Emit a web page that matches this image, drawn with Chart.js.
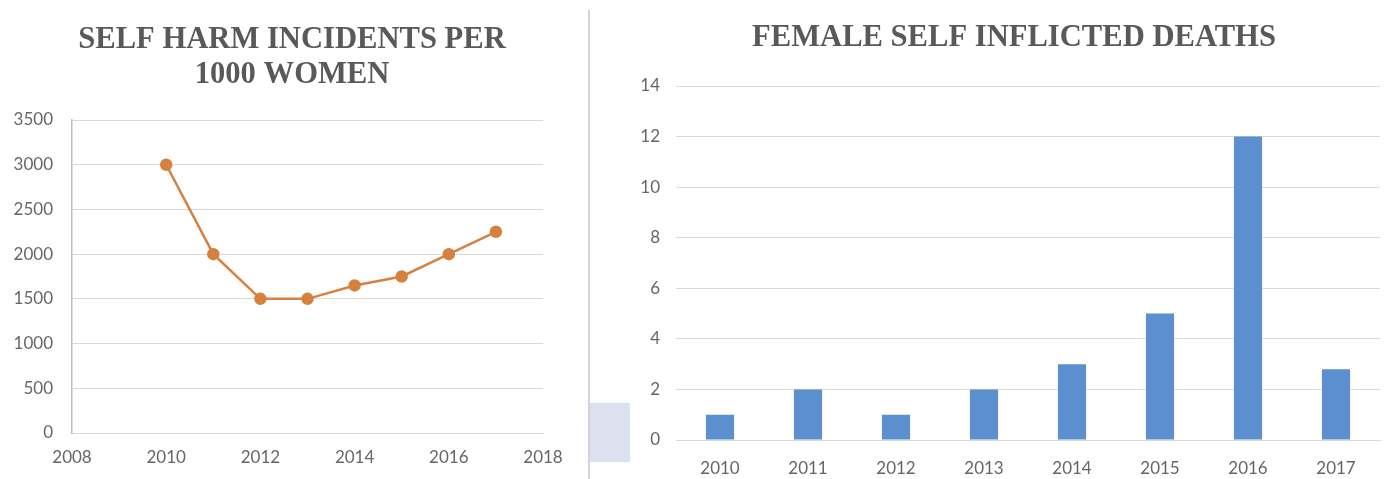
<!DOCTYPE html>
<html>
<head>
<meta charset="utf-8">
<script src="https://cdn.jsdelivr.net/npm/chart.js@4"></script>
<style>
  body { margin: 0; background: #fff; }
  #wrap { position: relative; width: 1390px; height: 479px; overflow: hidden; }
  #left { position: absolute; left: 0; top: 0; }
  #right { position: absolute; left: 638px; top: 0; }
  #sep { position: absolute; left: 588px; top: 10px; width: 2px; height: 469px; background: #d4d4d4; }
  #patch { position: absolute; left: 590px; top: 403px; width: 40px; height: 59px; background: #dde0ee; }
</style>
</head>
<body>
<div id="wrap">
  <canvas id="left" width="584" height="479"></canvas>
  <div id="sep"></div>
  <div id="patch"></div>
  <canvas id="right" width="752" height="479"></canvas>
</div>
<script>
// self harm incidents per 1000 women
const harmYears = [2010, 2011, 2012, 2013, 2014, 2015, 2016, 2017];
const harmValues = [3000, 2000, 1500, 1500, 1650, 1750, 2000, 2250];

// female self inflicted deaths
const deathYears = ['2010', '2011', '2012', '2013', '2014', '2015', '2016', '2017'];
const deathValues = [1, 2, 1, 2, 3, 5, 12, 2.8];

const tickFont = { family: 'Lato', size: 17 };
const tickColor = '#666666';
const gridColor = '#d9d9d9';
const titleFont = { family: 'Liberation Serif', size: 30.6, weight: 'bold', lineHeight: 35 / 30.6 };

// empty axis on the right, only there to reserve space so the title stays centred on the whole canvas
function spacer(w) {
    return {
        position: 'right',
        display: true,
        ticks: { display: false },
        grid: { display: false },
        border: { display: false },
        afterFit: s => { s.width = w; }
    };
}

new Chart(document.getElementById('left'), {
    type: 'line',
    data: {
        datasets: [{
            data: harmYears.map((y, i) => ({ x: y, y: harmValues[i] })),
            borderColor: '#d6813f',
            backgroundColor: '#d6813f',
            borderWidth: 2.5,
            pointRadius: 5,
            tension: 0
        }]
    },
    options: {
        responsive: false,
        animation: false,
        layout: { padding: 0 },
        plugins: {
            legend: { display: false },
            tooltip: { enabled: false },
            title: {
                display: true,
                text: ['SELF HARM INCIDENTS PER', '1000 WOMEN'],
                color: '#595959',
                font: titleFont,
                padding: { top: 22.5, bottom: 27.5 }
            }
        },
        scales: {
            x: {
                type: 'linear',
                min: 2008,
                max: 2018,
                ticks: { stepSize: 2, color: tickColor, font: tickFont, padding: 6, maxRotation: 0,
                         callback: v => String(v) },
                grid: { display: false },
                border: { display: true, color: gridColor, width: 1 },
                afterFit: s => { s.height = 46; }
            },
            y: {
                min: 0,
                max: 3500,
                ticks: { stepSize: 500, color: tickColor, font: tickFont, padding: 19,
                         callback: v => String(v) },
                grid: { color: gridColor, drawTicks: false },
                border: { display: true, color: '#bfbfbf', width: 1.5 },
                afterFit: s => { s.width = 72; }
            },
            pad: spacer(41)
        }
    }
});

new Chart(document.getElementById('right'), {
    type: 'bar',
    data: {
        labels: deathYears,
        datasets: [{
            data: deathValues,
            backgroundColor: '#5b8fcd',
            barPercentage: 0.5,
            categoryPercentage: 0.64
        }]
    },
    options: {
        responsive: false,
        animation: false,
        layout: { padding: 0 },
        plugins: {
            legend: { display: false },
            tooltip: { enabled: false },
            title: {
                display: true,
                text: 'FEMALE SELF INFLICTED DEATHS',
                color: '#595959',
                font: titleFont,
                padding: { top: 20.5, bottom: 30.5 }
            }
        },
        scales: {
            x: {
                ticks: { color: tickColor, font: tickFont, padding: 10 },
                grid: { display: false },
                border: { display: true, color: gridColor, width: 1 },
                afterFit: s => { s.height = 39; }
            },
            y: {
                min: 0,
                max: 14,
                ticks: { stepSize: 2, color: tickColor, font: tickFont, padding: 16 },
                grid: { color: gridColor, drawTicks: false },
                border: { display: false },
                afterFit: s => { s.width = 38; }
            },
            pad: spacer(10)
        }
    }
});
</script>
</body>
</html>
